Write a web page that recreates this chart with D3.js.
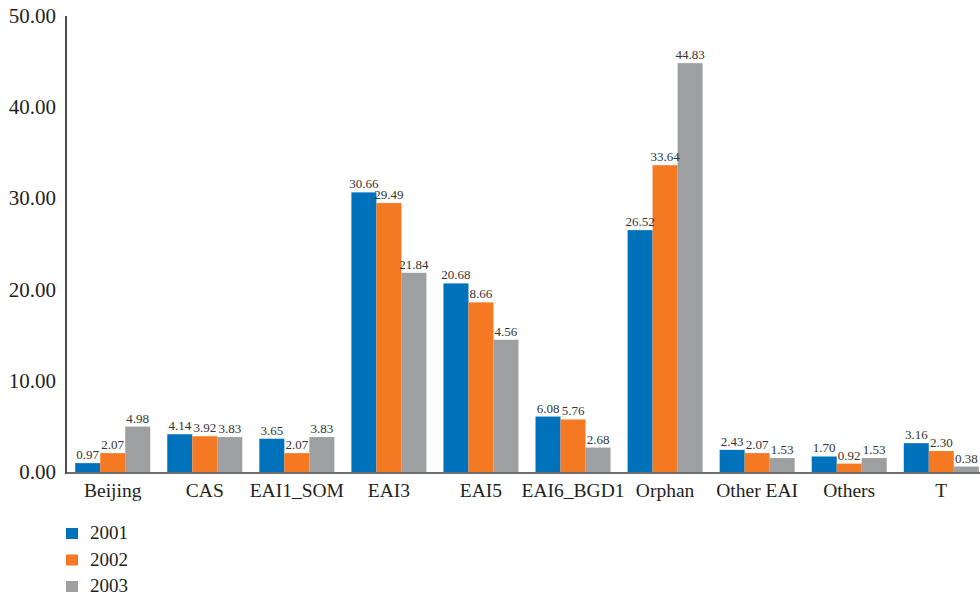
<!DOCTYPE html>
<html>
<head>
<meta charset="utf-8">
<script src="https://cdn.jsdelivr.net/npm/d3@7"></script>
<style>
  body { margin: 0; background: #fff; }
</style>
</head>
<body>
<svg id="chart" width="980" height="597"></svg>
<script>

var categories = ["Beijing", "CAS", "EAI1_SOM", "EAI3", "EAI5", "EAI6_BGD1", "Orphan", "Other EAI", "Others", "T"];
var years = ["2001", "2002", "2003"];

// bar heights as drawn
var bars2001 = [0.97, 4.14, 3.65, 30.66, 20.68, 6.08, 26.52, 2.43, 1.70, 3.16];
var bars2002 = [2.07, 3.92, 2.07, 29.49, 18.6, 5.76, 33.64, 2.07, 0.92, 2.30];
var bars2003 = [4.98, 3.83, 3.83, 21.84, 14.5, 2.68, 44.83, 1.53, 1.53, 0.6];

// labels printed above bars
var labels2001 = ["0.97", "4.14", "3.65", "30.66", "20.68", "6.08", "26.52", "2.43", "1.70", "3.16"];
var labels2002 = ["2.07", "3.92", "2.07", "29.49", "8.66", "5.76", "33.64", "2.07", "0.92", "2.30"];
var labels2003 = ["4.98", "3.83", "3.83", "21.84", "4.56", "2.68", "44.83", "1.53", "1.53", "0.38"];

var yTicks = [0, 10, 20, 30, 40, 50];
var colors = ["#0072bc", "#f47922", "#9d9fa1"];
var font = "'Liberation Serif', 'Times New Roman', Tinos, 'DejaVu Serif', serif";

var svg = d3.select("#chart")
    .style("font-family", font);

var x0 = d3.scaleBand()
    .domain(categories)
    .range([66, 988])
    .paddingInner(0.185)
    .paddingOuter(0.1);

var x1 = d3.scaleBand()
    .domain(years)
    .range([0, x0.bandwidth()]);

var y = d3.scaleLinear()
    .domain([0, 50])
    .range([472, 16]);

var series = [bars2001, bars2002, bars2003];
var labelSets = [labels2001, labels2002, labels2003];

var rows = [];
for (let i = 0; i < categories.length; i++) {
    for (let j = 0; j < years.length; j++) {
        rows.push({cat: categories[i], year: years[j], v: series[j][i], label: labelSets[j][i], c: colors[j]});
    }
}

svg.selectAll(".bar")
    .data(rows)
    .enter()
    .append("rect")
    .attr("x", d => x0(d.cat) + x1(d.year))
    .attr("y", d => y(d.v))
    .attr("width", x1.bandwidth())
    .attr("height", d => y(0) - y(d.v))
    .style("fill", d => d.c);

svg.selectAll(".vlabel")
    .data(rows)
    .enter()
    .append("text")
    .attr("x", d => x0(d.cat) + x1(d.year) + x1.bandwidth() / 2)
    .attr("y", d => y(d.v) - 4)
    .attr("text-anchor", "middle")
    .style("font-family", font)
    .style("font-size", "13px")
    .style("fill", "#333")
    .text(d => d.label);

// y axis
svg.selectAll(".ytick")
    .data(yTicks)
    .enter()
    .append("text")
    .attr("x", 56)
    .attr("y", d => y(d) + 7)
    .attr("text-anchor", "end")
    .style("font-family", font)
    .style("font-size", "21px")
    .style("fill", "#231f20")
    .text(d => d3.format(".2f")(d));

svg.append("line")
    .attr("x1", 66).attr("x2", 980)
    .attr("y1", y(0) + 1).attr("y2", y(0) + 1)
    .style("stroke", "#6d6e70")
    .style("stroke-width", 2);

svg.append("line")
    .attr("x1", 66).attr("x2", 66)
    .attr("y1", y(50)).attr("y2", y(0) + 2)
    .style("stroke", "#4d4d4f")
    .style("stroke-width", 2);

// category labels
svg.selectAll(".cat")
    .data(categories)
    .enter()
    .append("text")
    .attr("x", d => x0(d) + x0.bandwidth() / 2)
    .attr("y", 497)
    .attr("text-anchor", "middle")
    .style("font-family", font)
    .style("font-size", "19.5px")
    .style("fill", "#231f20")
    .text(d => d);

// legend
var legend = svg.selectAll(".legend")
    .data(years)
    .enter()
    .append("g")
    .attr("transform", (d, i) => "translate(66," + (528 + i * 26.5) + ")");

legend.append("rect")
    .attr("width", 12)
    .attr("height", 11)
    .style("fill", (d, i) => colors[i]);

legend.append("text")
    .attr("x", 24)
    .attr("y", 11)
    .style("font-family", font)
    .style("font-size", "19px")
    .style("fill", "#231f20")
    .text(d => d);

</script>
</body>
</html>
